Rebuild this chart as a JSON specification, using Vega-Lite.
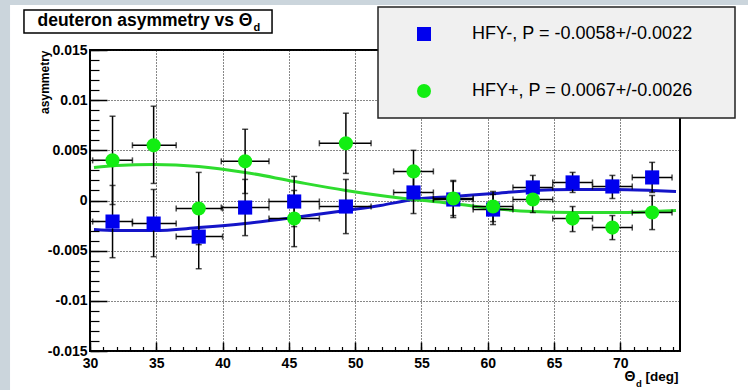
{
  "$schema": "https://vega.github.io/schema/vega-lite/v6.json",
  "width": 590,
  "height": 301,
  "autosize": {"type": "none"},
  "padding": {"left": 90, "top": 50, "right": 68, "bottom": 39},
  "background": "white",
  "config": {
    "view": {"stroke": "black", "strokeWidth": 2},
    "font": "Liberation Sans",
    "legend": {"strokeWidth": 1.5}
  },
  "datasets": {
    "pts": [
      {"s": "HFY-, P = -0.0058+/-0.0022", "t": 31.7, "t1": 30.2, "t2": 33.2, "a": -0.0021, "a1": -0.0057, "a2": 0.0015},
      {"s": "HFY-, P = -0.0058+/-0.0022", "t": 34.8, "t1": 33.2, "t2": 36.5, "a": -0.0023, "a1": -0.0056, "a2": 0.0011},
      {"s": "HFY-, P = -0.0058+/-0.0022", "t": 38.2, "t1": 36.5, "t2": 40.0, "a": -0.0036, "a1": -0.0068, "a2": -0.0004},
      {"s": "HFY-, P = -0.0058+/-0.0022", "t": 41.7, "t1": 39.9, "t2": 43.5, "a": -0.0007, "a1": -0.0035, "a2": 0.0021},
      {"s": "HFY-, P = -0.0058+/-0.0022", "t": 45.4, "t1": 43.5, "t2": 47.3, "a": -0.0001, "a1": -0.0026, "a2": 0.0024},
      {"s": "HFY-, P = -0.0058+/-0.0022", "t": 49.3, "t1": 47.3, "t2": 51.2, "a": -0.0006, "a1": -0.0033, "a2": 0.0021},
      {"s": "HFY-, P = -0.0058+/-0.0022", "t": 54.4, "t1": 52.9, "t2": 55.9, "a": 0.0008, "a1": -0.0013, "a2": 0.0029},
      {"s": "HFY-, P = -0.0058+/-0.0022", "t": 57.4, "t1": 55.9, "t2": 58.9, "a": 0.0001, "a1": -0.0017, "a2": 0.0019},
      {"s": "HFY-, P = -0.0058+/-0.0022", "t": 60.4, "t1": 58.9, "t2": 61.9, "a": -0.0009, "a1": -0.0024, "a2": 0.0006},
      {"s": "HFY-, P = -0.0058+/-0.0022", "t": 63.4, "t1": 61.9, "t2": 64.9, "a": 0.0013, "a1": 0.0002, "a2": 0.0025},
      {"s": "HFY-, P = -0.0058+/-0.0022", "t": 66.4, "t1": 64.9, "t2": 67.9, "a": 0.0018, "a1": 0.0008, "a2": 0.0028},
      {"s": "HFY-, P = -0.0058+/-0.0022", "t": 69.4, "t1": 67.9, "t2": 70.9, "a": 0.0014, "a1": 0.0002, "a2": 0.0025},
      {"s": "HFY-, P = -0.0058+/-0.0022", "t": 72.4, "t1": 70.9, "t2": 73.9, "a": 0.0023, "a1": 0.0008, "a2": 0.0038},
      {"s": "HFY+, P = 0.0067+/-0.0026", "t": 31.7, "t1": 30.2, "t2": 33.2, "a": 0.0040, "a1": -0.0004, "a2": 0.0084},
      {"s": "HFY+, P = 0.0067+/-0.0026", "t": 34.8, "t1": 33.2, "t2": 36.5, "a": 0.0055, "a1": 0.0017, "a2": 0.0094},
      {"s": "HFY+, P = 0.0067+/-0.0026", "t": 38.2, "t1": 36.5, "t2": 40.0, "a": -0.0008, "a1": -0.0044, "a2": 0.0028},
      {"s": "HFY+, P = 0.0067+/-0.0026", "t": 41.7, "t1": 39.9, "t2": 43.5, "a": 0.0039, "a1": 0.0007, "a2": 0.0071},
      {"s": "HFY+, P = 0.0067+/-0.0026", "t": 45.4, "t1": 43.5, "t2": 47.3, "a": -0.0018, "a1": -0.0046, "a2": 0.0010},
      {"s": "HFY+, P = 0.0067+/-0.0026", "t": 49.3, "t1": 47.3, "t2": 51.2, "a": 0.0057, "a1": 0.0027, "a2": 0.0087},
      {"s": "HFY+, P = 0.0067+/-0.0026", "t": 54.4, "t1": 52.9, "t2": 55.9, "a": 0.0029, "a1": 0.0008, "a2": 0.0050},
      {"s": "HFY+, P = 0.0067+/-0.0026", "t": 57.4, "t1": 55.9, "t2": 58.9, "a": 0.0002, "a1": -0.0015, "a2": 0.0020},
      {"s": "HFY+, P = 0.0067+/-0.0026", "t": 60.4, "t1": 58.9, "t2": 61.9, "a": -0.0006, "a1": -0.0021, "a2": 0.0009},
      {"s": "HFY+, P = 0.0067+/-0.0026", "t": 63.4, "t1": 61.9, "t2": 64.9, "a": 0.0001, "a1": -0.0012, "a2": 0.0014},
      {"s": "HFY+, P = 0.0067+/-0.0026", "t": 66.4, "t1": 64.9, "t2": 67.9, "a": -0.0018, "a1": -0.0031, "a2": -0.0006},
      {"s": "HFY+, P = 0.0067+/-0.0026", "t": 69.4, "t1": 67.9, "t2": 70.9, "a": -0.0027, "a1": -0.0039, "a2": -0.0015},
      {"s": "HFY+, P = 0.0067+/-0.0026", "t": 72.4, "t1": 70.9, "t2": 73.9, "a": -0.0012, "a1": -0.0029, "a2": 0.0005}
    ],
    "fits": [
      {"s": "HFY-", "t": 30.3, "a": -0.0029},
      {"s": "HFY-", "t": 32.0, "a": -0.0030},
      {"s": "HFY-", "t": 34.8, "a": -0.0030},
      {"s": "HFY-", "t": 38.2, "a": -0.0027},
      {"s": "HFY-", "t": 41.7, "a": -0.0023},
      {"s": "HFY-", "t": 45.4, "a": -0.0017},
      {"s": "HFY-", "t": 49.3, "a": -0.0010},
      {"s": "HFY-", "t": 51.9, "a": -0.0005},
      {"s": "HFY-", "t": 54.4, "a": 0.0001},
      {"s": "HFY-", "t": 57.4, "a": 0.0004},
      {"s": "HFY-", "t": 60.4, "a": 0.0007},
      {"s": "HFY-", "t": 63.4, "a": 0.0010},
      {"s": "HFY-", "t": 66.4, "a": 0.0011},
      {"s": "HFY-", "t": 69.4, "a": 0.0011},
      {"s": "HFY-", "t": 72.4, "a": 0.0010},
      {"s": "HFY-", "t": 74.2, "a": 0.0009},
      {"s": "HFY+", "t": 30.3, "a": 0.0033},
      {"s": "HFY+", "t": 32.0, "a": 0.0035},
      {"s": "HFY+", "t": 34.8, "a": 0.0036},
      {"s": "HFY+", "t": 38.2, "a": 0.0034},
      {"s": "HFY+", "t": 41.7, "a": 0.0028},
      {"s": "HFY+", "t": 45.4, "a": 0.0019},
      {"s": "HFY+", "t": 49.3, "a": 0.0010},
      {"s": "HFY+", "t": 51.9, "a": 0.0005},
      {"s": "HFY+", "t": 54.4, "a": 0.0001},
      {"s": "HFY+", "t": 57.4, "a": -0.0003},
      {"s": "HFY+", "t": 60.4, "a": -0.0008},
      {"s": "HFY+", "t": 63.4, "a": -0.0011},
      {"s": "HFY+", "t": 66.4, "a": -0.0012},
      {"s": "HFY+", "t": 69.4, "a": -0.0012},
      {"s": "HFY+", "t": 72.4, "a": -0.0011},
      {"s": "HFY+", "t": 74.2, "a": -0.0010}
    ]
  },
  "resolve": {"axis": {"x": "independent", "y": "independent"}},
  "layer": [
    {
      "data": {"values": [{}]},
      "mark": {"type": "rect", "fill": "#cbd5dc", "strokeWidth": 0},
      "encoding": {
        "x": {"datum": 20, "type": "quantitative", "scale": {"domain": [30, 74.5], "nice": false, "zero": false}, "axis": null},
        "x2": {"datum": 23.97},
        "y": {"datum": -0.03, "type": "quantitative", "scale": {"domain": [-0.015, 0.015], "nice": false, "zero": false}, "axis": null},
        "y2": {"datum": 0.03}
      }
    },
    {
      "data": {"values": [{}]},
      "mark": {"type": "rect", "fill": "#cbd5dc", "strokeWidth": 0},
      "encoding": {
        "x": {"datum": 20, "type": "quantitative", "axis": null},
        "x2": {"datum": 85},
        "y": {"datum": 0.01949, "type": "quantitative", "axis": null},
        "y2": {"datum": 0.03}
      }
    },
    {
      "data": {"values": [{}]},
      "mark": {"type": "rect", "fill": "transparent", "stroke": "black", "strokeWidth": 1.5},
      "encoding": {
        "x": {"datum": 25.02, "type": "quantitative", "axis": null},
        "x2": {"datum": 43.73},
        "y": {"datum": 0.01899, "type": "quantitative", "axis": null},
        "y2": {"datum": 0.01669}
      }
    },
    {
      "data": {"name": "fits"},
      "mark": {"type": "line", "interpolate": "monotone", "strokeWidth": 3},
      "encoding": {
        "x": {"field": "t", "type": "quantitative", "scale": {"domain": [30, 74.5], "nice": false, "zero": false},
          "axis": {"orient": "bottom", "values": [30, 35, 40, 45, 50, 55, 60, 65, 70], "grid": true, "gridColor": "#111", "gridDash": [1, 2], "gridWidth": 1, "domain": false, "tickSize": -9, "tickWidth": 1.5, "tickColor": "black", "labelFont": "Liberation Sans", "labelFontWeight": "bold", "labelFontSize": 14, "labelColor": "black", "labelPadding": 14, "labelFlush": false, "labelOverlap": false, "title": "[deg]", "titleFont": "Liberation Sans", "titleFontWeight": "bold", "titleFontSize": 13.5, "titleColor": "black", "titleX": 588, "titleY": 29, "titleAlign": "right", "titleBaseline": "alphabetic", "titleAngle": 0}},
        "y": {"field": "a", "type": "quantitative", "scale": {"domain": [-0.015, 0.015], "nice": false, "zero": false},
          "axis": {"orient": "left", "values": [-0.015, -0.01, -0.005, 0, 0.005, 0.01, 0.015], "grid": true, "gridColor": "#111", "gridDash": [1, 2], "gridWidth": 1, "domain": false, "tickSize": -17, "tickWidth": 1.5, "tickColor": "black", "labelFont": "Liberation Sans", "labelFontWeight": "bold", "labelFontSize": 14, "labelColor": "black", "labelPadding": 20, "labelFlush": false, "labelOverlap": false, "labelExpr": "'' + datum.value", "title": "asymmetry", "titleFont": "Liberation Sans", "titleFontWeight": "bold", "titleFontSize": 12, "titleColor": "black", "titleX": -42, "titleY": 0, "titleAngle": -90, "titleAlign": "right", "titleBaseline": "alphabetic"}},
        "stroke": {"field": "s", "type": "nominal", "scale": {"domain": ["HFY-", "HFY+"], "range": ["#1414c8", "#2edc2e"]}, "legend": null}
      }
    },
    {
      "data": {"name": "pts"},
      "mark": {"type": "rule", "color": "black", "strokeWidth": 1.5},
      "encoding": {
        "x": {"field": "t", "type": "quantitative",
          "axis": {"orient": "bottom", "zindex": 1, "values": [30,31,32,33,34,35,36,37,38,39,40,41,42,43,44,45,46,47,48,49,50,51,52,53,54,55,56,57,58,59,60,61,62,63,64,65,66,67,68,69,70,71,72,73,74], "grid": false, "domain": false, "labels": false, "tickSize": -4.5, "tickWidth": 1.2, "tickColor": "black", "title": "d", "titleFont": "Liberation Sans", "titleFontWeight": "bold", "titleFontSize": 9.5, "titleColor": "black", "titleX": 545.5, "titleY": 35, "titleAlign": "left", "titleBaseline": "alphabetic", "titleAngle": 0}},
        "y": {"field": "a1", "type": "quantitative",
          "axis": {"orient": "left", "zindex": 1, "values": [-0.015,-0.014,-0.013,-0.012,-0.011,-0.01,-0.009,-0.008,-0.007,-0.006,-0.005,-0.004,-0.003,-0.002,-0.001,0,0.001,0.002,0.003,0.004,0.005,0.006,0.007,0.008,0.009,0.01,0.011,0.012,0.013,0.014,0.015], "grid": false, "domain": false, "labels": false, "tickSize": -9, "tickWidth": 1.2, "tickColor": "black", "title": "d", "titleFont": "Liberation Sans", "titleFontWeight": "bold", "titleFontSize": 11, "titleColor": "black", "titleX": 163, "titleY": -20, "titleAngle": 0, "titleAlign": "left", "titleBaseline": "alphabetic"}},
        "y2": {"field": "a2"}
      }
    },
    {
      "data": {"name": "pts"},
      "mark": {"type": "rule", "color": "black", "strokeWidth": 1.5},
      "encoding": {
        "x": {"field": "t1", "type": "quantitative",
          "axis": {"orient": "top", "zindex": 1, "grid": false, "domain": false, "labels": false, "ticks": false, "title": "deuteron asymmetry vs Θ", "titleFont": "Liberation Sans", "titleFontWeight": "bold", "titleFontSize": 17.5, "titleColor": "black", "titleX": -53, "titleY": -25, "titleAngle": 0, "titleAlign": "left", "titleBaseline": "alphabetic"}},
        "x2": {"field": "t2"},
        "y": {"field": "a", "type": "quantitative", "axis": null}
      }
    },
    {
      "data": {"name": "pts"},
      "mark": {"type": "tick", "orient": "horizontal", "color": "black", "size": 6, "thickness": 1.5},
      "encoding": {
        "x": {"field": "t", "type": "quantitative",
          "axis": {"orient": "bottom", "zindex": 1, "grid": false, "domain": false, "labels": false, "ticks": false, "title": "Θ", "titleFont": "Liberation Sans", "titleFontWeight": "bold", "titleFontSize": 14, "titleColor": "black", "titleX": 545, "titleY": 29, "titleAngle": 0, "titleAlign": "right", "titleBaseline": "alphabetic"}},
        "y": {"field": "a1", "type": "quantitative", "axis": null}
      }
    },
    {
      "data": {"name": "pts"},
      "mark": {"type": "tick", "orient": "horizontal", "color": "black", "size": 6, "thickness": 1.5},
      "encoding": {
        "x": {"field": "t", "type": "quantitative", "axis": null},
        "y": {"field": "a2", "type": "quantitative", "axis": null}
      }
    },
    {
      "data": {"name": "pts"},
      "mark": {"type": "tick", "orient": "vertical", "color": "black", "size": 6, "thickness": 1.5},
      "encoding": {
        "x": {"field": "t1", "type": "quantitative", "axis": null},
        "y": {"field": "a", "type": "quantitative", "axis": null}
      }
    },
    {
      "data": {"name": "pts"},
      "mark": {"type": "tick", "orient": "vertical", "color": "black", "size": 6, "thickness": 1.5},
      "encoding": {
        "x": {"field": "t2", "type": "quantitative", "axis": null},
        "y": {"field": "a", "type": "quantitative", "axis": null}
      }
    },
    {
      "data": {"name": "pts"},
      "mark": {"type": "point", "filled": true, "opacity": 1, "size": 200, "strokeWidth": 0},
      "encoding": {
        "x": {"field": "t", "type": "quantitative", "axis": null},
        "y": {"field": "a", "type": "quantitative", "axis": null},
        "color": {"field": "s", "type": "nominal",
          "scale": {"domain": ["HFY-, P = -0.0058+/-0.0022", "HFY+, P = 0.0067+/-0.0026"], "range": ["#0000ee", "#12ee12"]},
          "legend": {"orient": "none", "legendX": 288, "legendY": -43, "title": "·", "titleOrient": "right", "titleFontSize": 4, "titleColor": "transparent", "titlePadding": 22, "fillColor": "#f0f0f0", "strokeColor": "#222", "padding": 18, "symbolOffset": 19, "labelOffset": 39, "labelFont": "Liberation Sans", "labelFontSize": 18, "labelColor": "black", "labelLimit": 600, "rowPadding": 39, "symbolSize": 196, "symbolStrokeWidth": 0}},
        "shape": {"field": "s", "type": "nominal",
          "scale": {"domain": ["HFY-, P = -0.0058+/-0.0022", "HFY+, P = 0.0067+/-0.0026"], "range": ["square", "circle"]}}
      }
    }
  ]
}
